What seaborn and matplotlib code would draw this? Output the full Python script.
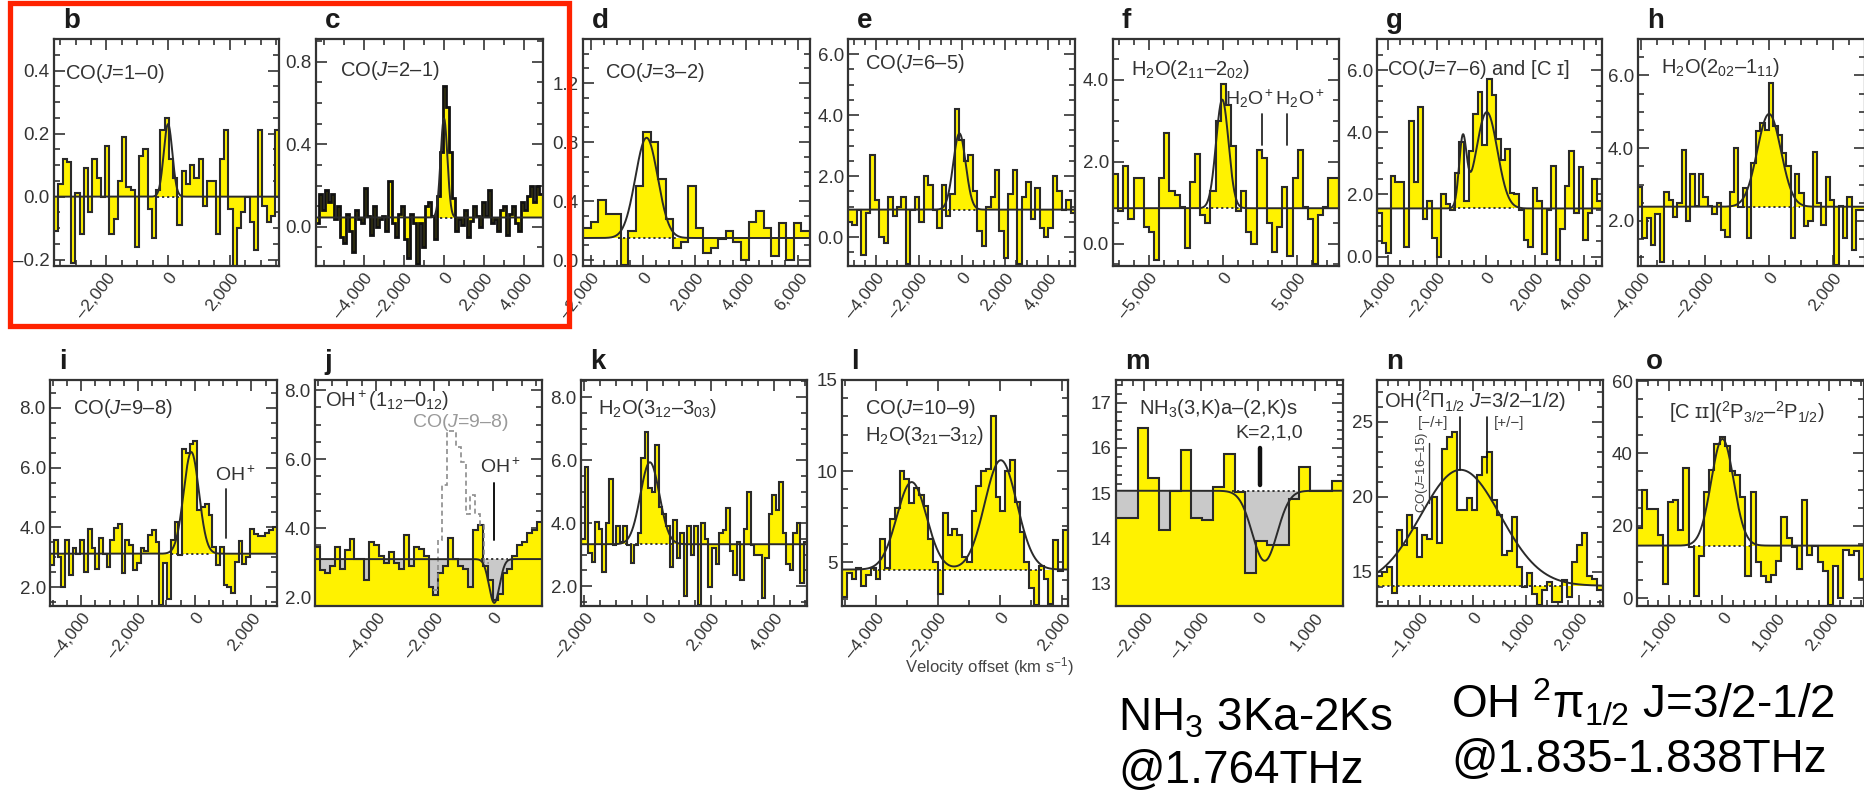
import numpy as np
import matplotlib
matplotlib.use("Agg")
import matplotlib.pyplot as plt
from matplotlib.patches import Rectangle
from matplotlib.ticker import MultipleLocator, FixedLocator, FuncFormatter
import seaborn as sns

# ---- spectra: (first channel edge, channel width) in km/s, flux per channel ----
chan_b = (-3700, 138)
flux_b = [-0.11, 0.04, 0.12, 0.11, -0.21, 0.01, -0.12,
          0.09, -0.05, 0.12, 0.06, 0.00, 0.16,
          -0.12, -0.07, 0.05, 0.19, 0.03, 0.02,
          -0.16, 0.13, 0.15, -0.04, -0.13, 0.02,
          0.21, 0.25, 0.12, 0.06, -0.09, 0.08,
          0.04, 0.10, 0.06, 0.12, -0.03, 0.05,
          0.05, -0.12, 0.12, 0.21, -0.04, -0.22,
          -0.10, -0.05, 0.00, -0.08, -0.17, 0.21, -0.03, -0.08, -0.06, 0.21]
chan_c = (-6400, 151)
flux_c = [0.02, 0.16, 0.08, 0.18, 0.12, 0.16, 0.04, 0.10, -0.05, -0.08,
          0.06, -0.02, -0.12, 0.08, 0.04, 0.02, 0.19, 0.05, -0.04, 0.10,
          0.00, 0.04, 0.05, -0.02, 0.22, 0.02, -0.05, 0.06, 0.10, -0.06,
          -0.15, 0.06, 0.02, -0.18, 0.02, -0.10, 0.10, 0.12, 0.05, -0.06,
          0.15, 0.36, 0.68, 0.58, 0.36, 0.14, -0.02, 0.04, 0.01, 0.08,
          -0.05, 0.03, 0.10, 0.05, 0.00, 0.12, 0.05, 0.18, 0.02, 0.04,
          -0.02, 0.08, 0.10, -0.04, 0.06, 0.10, 0.02, -0.02, 0.12, 0.08,
          0.15, 0.20, 0.12, 0.20, 0.16]
chan_d = (-2300, 290)
flux_d = [0.22, 0.26, 0.41, 0.31, 0.31, -0.03, 0.20, 0.50, 0.87, 0.80,
          0.55, 0.28, 0.08, 0.12, 0.50, 0.22, 0.05, 0.08, 0.14, 0.20,
          0.12, 0.00, 0.26, 0.33, 0.22, 0.03, 0.25, 0.00, 0.25, 0.20]
chan_e = (-5300, 207)
flux_e = [0.5, 0.4, 0.9, -0.6, 0.8, 2.7, 1.2, 0.0, -0.2, 1.3,
          0.7, 1.0, 1.3, -0.9, 0.9, 1.3, 0.5, 2.0, 1.7, 0.9,
          0.3, 1.7, 0.7, 1.4, 4.2, 3.2, 2.5, 2.7, 1.5, 0.2,
          -0.3, 1.0, 1.3, 2.2, 0.2, -0.7, 1.4, 2.2, -0.9, 1.3,
          1.8, 0.6, 1.6, 0.3, 0.0, 0.3, 2.0, 1.5, 0.9, 1.2, 0.8]
chan_f = (-7400, 345)
flux_f = [1.7, 0.8, 1.9, 0.6, 1.6, 1.6, 0.4, 0.3, -0.4, 1.6,
          2.7, 1.3, 1.2, 0.9, -0.1, 1.5, 2.2, 0.7, 0.5, 1.3,
          3.0, 3.9, 3.4, 2.4, 0.8, 1.3, 0.3, 0.0, 2.3, 2.1,
          0.5, -0.2, 0.4, 1.4, -0.3, 1.6, 2.3, 0.9, 0.6, -0.5,
          0.7, 0.9, 1.6, 1.6]
chan_g = (-4450, 187)
flux_g = [1.4, 0.45, 0.13, 2.6, 2.4, 2.4, 0.3, 4.35, 2.4, 4.8,
          1.2, 1.8, 0.6, 0.0, 2.0, 1.7, 1.5, 2.7, 3.7, 1.8,
          3.4, 4.6, 5.3, 3.6, 5.7, 5.2, 3.8, 3.1, 3.45, 2.05,
          2.0, 1.5, 0.55, 0.3, 2.2, 1.8, 0.1, 1.5, 2.9, -0.1,
          0.9, 2.26, 3.4, 1.4, 2.87, 0.55, 1.4, 2.5, 1.8]
chan_h = (-4100, 136.5)
flux_h = [2.94, 1.53, 2.08, 1.34, 2.2, 0.87, 2.8, 2.58, 2.1, 2.5,
          3.96, 2.0, 3.3, 2.4, 3.3, 2.67, 2.4, 2.2, 2.5, 1.75,
          1.56, 2.8, 4.0, 2.39, 2.9, 1.53, 3.6, 4.46, 4.7, 4.5,
          5.8, 4.6, 4.37, 3.87, 3.5, 1.53, 3.3, 2.77, 1.85, 2.0,
          3.9, 2.5, 1.9, 3.2, 2.58, 0.8, 2.4, 1.53, 2.67, 1.2, 2.3, 2.3]
chan_i = (-5100, 133)
flux_i = [2.73, 3.57, 3.0, 2.0, 3.57, 2.4, 3.3, 3.1, 3.57, 2.5,
          3.96, 3.3, 2.6, 3.63, 3.1, 2.67, 3.57, 3.97, 4.1, 2.47,
          3.57, 3.4, 2.57, 2.8, 3.3, 3.2, 3.73, 3.9, 3.5, 1.4,
          2.8, 1.6, 3.57, 4.17, 3.07, 6.63, 6.5, 6.8, 6.9, 4.57,
          4.67, 4.77, 4.4, 3.33, 2.73, 3.33, 2.07, 2.0, 1.8, 2.83,
          3.53, 2.77, 3.0, 3.94, 3.77, 3.7, 3.7, 3.8, 3.9, 4.0]
chan_j = (-6100, 169.6)
flux_j = [3.45, 2.78, 2.7, 2.9, 3.45, 2.8, 3.36, 3.68, 3.1, 3.1,
          2.5, 3.59, 3.5, 3.2, 3.0, 3.3, 3.0, 2.8, 3.8, 2.9,
          3.45, 3.4, 3.2, 2.3, 2.06, 2.7, 2.9, 3.7, 3.1, 2.9,
          2.8, 2.3, 3.94, 4.1, 2.9, 2.5, 1.9, 2.1, 2.7, 2.8,
          3.2, 3.5, 3.6, 3.86, 3.95, 4.17]
chan_j_co98 = (-2040, 160)
flux_j_co98 = [2.2, 3.65, 5.25, 6.8, 6.8, 6.35, 5.9, 4.4, 4.96, 4.4, 4.1, 3.0]
chan_k = (-2100, 112)
flux_k = [3.5, 5.78, 3.05, 2.77, 4.03, 3.8, 2.46, 4.0, 5.4, 3.3,
          3.9, 3.4, 3.9, 3.3, 2.73, 3.3, 3.7, 6.05, 6.9, 5.1,
          5.0, 6.48, 4.5, 4.3, 3.9, 2.6, 4.1, 2.9, 3.7, 1.7,
          3.9, 3.0, 3.9, 1.4, 4.0, 3.5, 1.97, 3.2, 2.7, 3.7,
          3.78, 4.47, 3.1, 2.35, 3.4, 2.2, 3.8, 4.98, 3.3, 3.0,
          3.0, 1.62, 2.9, 4.3, 4.89, 4.4, 5.3, 3.7, 2.7, 2.5,
          3.7, 4.0, 2.1, 3.4]
chan_l = (-5100, 155)
flux_l = [3.1, 4.4, 4.1, 4.7, 3.7, 4.3, 4.7, 4.1, 6.3, 4.7,
          7.4, 8.0, 10.0, 9.55, 8.27, 9.1, 8.7, 8.08, 6.3, 5.0,
          3.26, 7.7, 6.5, 6.8, 6.5, 5.3, 5.0, 7.8, 9.17, 10.0,
          10.1, 13.0, 8.6, 7.8, 10.0, 10.6, 8.3, 6.67, 5.0, 3.6,
          2.67, 4.8, 4.1, 2.7, 6.2, 4.5, 6.78]
chan_m = (-2500, 190)
flux_m = [14.44, 14.44, 16.44, 15.33, 14.18, 15.05, 15.96, 14.44, 14.4, 15.13,
          15.87, 15.03, 13.22, 13.94, 13.84, 13.84, 14.87, 15.57, 15.05, 15.05, 15.27]
chan_n = (-1800, 94)
flux_n = [14.7, 15.0, 15.33, 13.6, 17.8, 16.8, 18.8, 17.9, 16.0, 17.47,
          17.2, 20.0, 16.9, 23.2, 24.0, 24.33, 19.13, 19.13, 19.93, 19.13,
          21.47, 22.67, 23.0, 19.8, 18.8, 16.1, 16.4, 18.67, 15.3, 14.0,
          14.93, 13.47, 12.8, 13.8, 14.3, 13.0, 13.0, 14.47, 13.3, 15.67,
          16.8, 17.6, 14.73, 14.5, 13.8]
chan_o = (-1600, 96.6)
flux_o = [19.45, 29.9, 24.66, 24.66, 17.3, 3.8, 26.6, 27.0, 18.9, 36.0,
          14.0, 0.5, 11.5, 29.3, 35.3, 42.7, 44.6, 42.0, 35.0, 34.0,
          28.0, 6.0, 29.3, 10.0, 6.0, 4.4, 6.5, 10.2, 22.5, 16.7,
          14.0, 7.9, 27.0, 12.0, 14.5, 10.0, 7.4, -2.0, 8.8, 0.0,
          13.4, 12.0, 13.0, 5.2]

# ---- continuum level and Gaussian fit components (amplitude, centre, sigma) ----
cont = {"b": 0.0, "c": 0.045, "d": 0.15, "e": 0.9, "f": 0.87, "g": 1.55, "h": 2.39,
        "i": 3.12, "j": 3.1, "k": 3.33, "l": 4.6, "m": 15.05, "n": 14.05, "o": 14.5}
fit_b = [(0.23, 0, 140)]
fit_c = [(0.48, 0, 170)]
fit_d = [(0.68, 150, 430)]
fit_e = [(2.5, -120, 290)]
fit_f = [(2.65, -50, 420)]
fit_g = [(2.15, -950, 150), (3.1, 30, 430)]
fit_h = [(2.55, 0, 370)]
fit_i = [(3.4, -120, 270)]
fit_j = [(-1.27, 60, 180)]
fit_k = [(2.6, 80, 300)]
fit_l = [(4.8, -2850, 480), (6.0, 30, 520)]
fit_m = [(-1.55, 120, 220)]
fit_n = [(7.75, -230, 750)]
fit_o = [(29.5, 0, 210)]

spectra = {
    "b": (chan_b, flux_b, fit_b), "c": (chan_c, flux_c, fit_c), "d": (chan_d, flux_d, fit_d),
    "e": (chan_e, flux_e, fit_e), "f": (chan_f, flux_f, fit_f), "g": (chan_g, flux_g, fit_g),
    "h": (chan_h, flux_h, fit_h), "i": (chan_i, flux_i, fit_i), "j": (chan_j, flux_j, fit_j),
    "k": (chan_k, flux_k, fit_k), "l": (chan_l, flux_l, fit_l), "m": (chan_m, flux_m, fit_m),
    "n": (chan_n, flux_n, fit_n), "o": (chan_o, flux_o, fit_o),
}
absorption = ["j", "m"]

# ---- layout: axes rectangle in pixels (left, top, width, height) and axis setup ----
layout = {
    "b": dict(rect=(54, 39, 225, 227), xlim=(-3700, 3600), ylim=(-0.22, 0.50),
              xt=[-2000, 0, 2000], xm=500, ym=0.2, yn=0.05, fmt="{:.1f}",
              title=(r"CO($J$=1–0)", 11, 23)),
    "c": dict(rect=(316, 39, 227, 227), xlim=(-6400, 4950), ylim=(-0.19, 0.91),
              xt=[-4000, -2000, 0, 2000, 4000], xm=1000, ym=0.4, yn=0.1, fmt="{:.1f}",
              title=(r"CO($J$=2–1)", 24, 20)),
    "d": dict(rect=(583, 39, 227, 227), xlim=(-2300, 6450), ylim=(-0.04, 1.5),
              xt=[-2000, 0, 2000, 4000, 6000], xm=500, ym=0.4, yn=0.1, fmt="{:.1f}",
              title=(r"CO($J$=3–2)", 22, 22)),
    "e": dict(rect=(848, 39, 227, 227), xlim=(-5300, 5250), ylim=(-0.95, 6.5),
              xt=[-4000, -2000, 0, 2000, 4000], xm=500, ym=2.0, yn=0.5, fmt="{:.1f}",
              title=(r"CO($J$=6–5)", 17, 13)),
    "f": dict(rect=(1113, 39, 226, 227), xlim=(-7400, 7800), ylim=(-0.54, 5.0),
              xt=[-5000, 0, 5000], xm=1000, ym=2.0, yn=0.5, fmt="{:.1f}",
              title=(r"H$_2$O(2$_{11}$–2$_{02}$)", 18, 19)),
    "g": dict(rect=(1377, 39, 225, 227), xlim=(-4450, 4730), ylim=(-0.3, 7.0),
              xt=[-4000, -2000, 0, 2000, 4000], xm=500, ym=2.0, yn=0.5, fmt="{:.1f}",
              title=("CO($J$=7–6) and [C ɪ]", 10, 19)),
    "h": dict(rect=(1638, 39, 227, 227), xlim=(-4100, 3000), ylim=(0.76, 7.0),
              xt=[-4000, -2000, 0, 2000], xm=500, ym=2.0, yn=0.5, fmt="{:.1f}",
              title=(r"H$_2$O(2$_{02}$–1$_{11}$)", 23, 17)),
    "i": dict(rect=(50, 380, 227, 226), xlim=(-5100, 2900), ylim=(1.37, 8.93),
              xt=[-4000, -2000, 0, 2000], xm=500, ym=2.0, yn=0.5, fmt="{:.1f}",
              title=(r"CO($J$=9–8)", 23, 17)),
    "j": dict(rect=(315, 380, 227, 226), xlim=(-6100, 1700), ylim=(1.74, 8.29),
              xt=[-4000, -2000, 0], xm=500, ym=2.0, yn=0.5, fmt="{:.1f}",
              title=(r"OH$^+$(1$_{12}$–0$_{12}$)", 10, 9)),
    "k": dict(rect=(581, 380, 226, 226), xlim=(-2100, 5050), ylim=(1.37, 8.54),
              xt=[-2000, 0, 2000, 4000], xm=500, ym=2.0, yn=0.5, fmt="{:.1f}",
              title=(r"H$_2$O(3$_{12}$–3$_{03}$)", 17, 17)),
    "l": dict(rect=(842, 380, 226, 226), xlim=(-5100, 2200), ylim=(2.6, 15.0),
              xt=[-4000, -2000, 0, 2000], xm=1000, ym=5, yn=1, fmt="{:.0f}",
              title=("CO($J$=10–9)\nH$_2$O(3$_{21}$–3$_{12}$)", 23, 17)),
    "m": dict(rect=(1116, 380, 227, 226), xlim=(-2500, 1500), ylim=(12.5, 17.5),
              xt=[-2000, -1000, 0, 1000], xm=200, ym=1, yn=0.2, fmt="{:.0f}",
              title=(r"NH$_3$(3,K)a–(2,K)s", 23, 17)),
    "n": dict(rect=(1377, 380, 226, 226), xlim=(-1800, 2450), ylim=(12.7, 27.8),
              xt=[-1000, 0, 1000, 2000], xm=200, ym=5, yn=1, fmt="{:.0f}",
              title=("OH($^2$Π$_{1/2}$ $J$=3/2–1/2)", 7, 8)),
    "o": dict(rect=(1637, 380, 227, 226), xlim=(-1600, 2650), ylim=(-2.2, 60.3),
              xt=[-1000, 0, 1000, 2000], xm=200, ym=20, yn=5, fmt="{:.0f}",
              title=("[C ɪɪ]($^2$P$_{3/2}$–$^2$P$_{1/2}$)", 32, 19)),
}

W, H = 1865, 793
YELLOW = "#fff200"
GREY_FILL = "#c9c9c9"
INK = "#2a2a2a"

sns.set_theme(style="ticks")
plt.rcParams["font.family"] = ["Liberation Sans", "DejaVu Sans"]
plt.rcParams["mathtext.fontset"] = "custom"
plt.rcParams["mathtext.rm"] = "Liberation Sans"
plt.rcParams["mathtext.it"] = "Liberation Sans:italic"
plt.rcParams["mathtext.bf"] = "Liberation Sans:bold"
plt.rcParams["axes.unicode_minus"] = False

fig = plt.figure(figsize=(W / 100, H / 100), dpi=100)


def dash(v, fmt):
    return fmt.format(v).replace("-", "–")


axes = {}
for key, lay in layout.items():
    left, top, w, h = lay["rect"]
    ax = fig.add_axes([left / W, 1 - (top + h) / H, w / W, h / H])
    axes[key] = ax
    (v0, dv), flux, comps = spectra[key]
    flux = np.asarray(flux, dtype=float)
    edges = v0 + dv * np.arange(len(flux) + 1)
    base = cont[key]

    if key in absorption:
        ax.stairs(flux, edges, baseline=lay["ylim"][0] - 5, fill=True, color=YELLOW, lw=0)
        ax.stairs(np.full(len(flux), base), edges, baseline=np.minimum(flux, base),
                  fill=True, color=GREY_FILL, lw=0)
    else:
        ax.stairs(flux, edges, baseline=base, fill=True, color=YELLOW, lw=0)
    ax.stairs(flux, edges, baseline=None, color="#111111" if key == "c" else INK,
              lw=2.0 if key == "c" else 1.5)

    # Gaussian fit and continuum (dotted under the line)
    vg = np.linspace(lay["xlim"][0], lay["xlim"][1], 800)
    model = base + sum(a * np.exp(-0.5 * ((vg - c) / s) ** 2) for a, c, s in comps)
    lo = min(c - 2.6 * s for a, c, s in comps)
    hi = max(c + 2.6 * s for a, c, s in comps)
    ax.plot([lo, hi], [base, base], ls=(0, (1.2, 1.6)), color=INK, lw=1.3)
    sns.lineplot(x=vg, y=model, ax=ax, color=INK, lw=1.4, legend=False)

    ax.set_xlim(*lay["xlim"])
    ax.set_ylim(*lay["ylim"])
    ax.set_xlabel("")
    ax.set_ylabel("")
    ax.xaxis.set_major_locator(FixedLocator(lay["xt"]))
    ax.xaxis.set_minor_locator(MultipleLocator(lay["xm"]))
    ax.yaxis.set_major_locator(MultipleLocator(lay["ym"]))
    ax.yaxis.set_minor_locator(MultipleLocator(lay["yn"]))
    ax.xaxis.set_major_formatter(FuncFormatter(lambda v, p: dash(v, "{:,.0f}")))
    ax.yaxis.set_major_formatter(FuncFormatter(lambda v, p, f=lay["fmt"]: dash(v, f)))
    ax.tick_params(which="both", direction="in", top=True, right=True,
                   color="#333333", width=1.2, labelcolor="#333333")
    ax.tick_params(axis="y", labelsize=13.5)
    ax.tick_params(axis="x", labelsize=12.5)
    ax.tick_params(which="major", length=8, pad=3)
    ax.tick_params(which="minor", length=4.5)
    plt.setp(ax.get_xticklabels(), rotation=52, ha="right", va="top",
             rotation_mode="anchor")
    for sp in ax.spines.values():
        sp.set_color("#333333")
        sp.set_linewidth(1.6)
    ax.set_facecolor("white")
    ax.grid(False)

    title, dx, dy = lay["title"]
    ax.text(dx / w, 1 - dy / h, title, transform=ax.transAxes, ha="left", va="top",
            fontsize=14.5, color="#333333", linespacing=1.25)
    fig.text((left + 9) / W, 1 - (top - 11) / H, key, fontsize=20, fontweight="bold",
             color="#1a1a1a", ha="left", va="baseline")

# ---- line markers ----
ax = axes["f"]
for v in [2640, 4330]:
    ax.plot([v, v], [2.41, 3.17], color=INK, lw=1.3)
ax.text(3500, 3.55, r"H$_2$O$^+$H$_2$O$^+$", ha="center", va="center", fontsize=14,
        color="#333333")

ax = axes["i"]
ax.plot([1120, 1120], [3.63, 5.3], color=INK, lw=1.3)
ax.text(1450, 5.75, r"OH$^+$", ha="center", va="center", fontsize=14, color="#333333")

ax = axes["j"]
(v0, dv) = chan_j_co98
co_edges = v0 + dv * np.arange(len(flux_j_co98) + 1)
ax.stairs(flux_j_co98, co_edges, baseline=None, color="#8c8c8c", lw=1.2, ls=(0, (3, 2)))
ax.text(-2770, 7.07, r"CO($J$=9–8)", ha="left", va="center", fontsize=14, color="#9a9a9a")
ax.plot([35, 35], [3.65, 5.3], color="#111111", lw=1.4)
ax.text(280, 5.77, r"OH$^+$", ha="center", va="center", fontsize=14, color="#333333")

ax = axes["m"]
ax.plot([35, 35], [15.17, 15.99], color="#111111", lw=3.2)
ax.text(200, 16.33, "K=2,1,0", ha="center", va="center", fontsize=14, color="#333333")

ax = axes["n"]
ax.plot([-245, -245], [21.8, 25.3], color="#111111", lw=1.2)
ax.plot([265, 265], [21.6, 25.3], color="#111111", lw=1.2)
ax.text(-740, 24.9, "[−/+]", ha="center", va="center", fontsize=11, color="#444444")
ax.text(680, 24.9, "[+/−]", ha="center", va="center", fontsize=11, color="#444444")
ax.text(-960, 21.6, r"CO($J$=16–15)", rotation=90, ha="center", va="center",
        fontsize=9.5, color="#444444")
ax.plot([-830, -830], [19.6, 23.6], color="#333333", lw=1.0)

# ---- red highlight frame around b and c ----
fig.add_artist(Rectangle((10 / W, 1 - 326 / H), (569 - 10) / W, (326 - 3) / H,
                         transform=fig.transFigure, fill=False, ec="#ff2200", lw=3.8))

# ---- figure-level text ----
fig.text(990 / W, 1 - 667 / H, "Velocity offset (km s$^{-1}$)", ha="center", va="center",
         fontsize=12, color="#444444")
fig.text(1118 / W, 1 - 731 / H, "NH$_3$ 3Ka-2Ks", ha="left", va="baseline",
         fontsize=33, color="black")
fig.text(1118 / W, 1 - 783 / H, "@1.764THz", ha="left", va="baseline",
         fontsize=33, color="black")
fig.text(1451 / W, 1 - 719 / H, "OH $^2$π$_{1/2}$ J=3/2-1/2", ha="left", va="baseline",
         fontsize=33, color="black")
fig.text(1451 / W, 1 - 772 / H, "@1.835-1.838THz", ha="left", va="baseline",
         fontsize=33, color="black")

fig.savefig("out.png", dpi=100, facecolor="white")
